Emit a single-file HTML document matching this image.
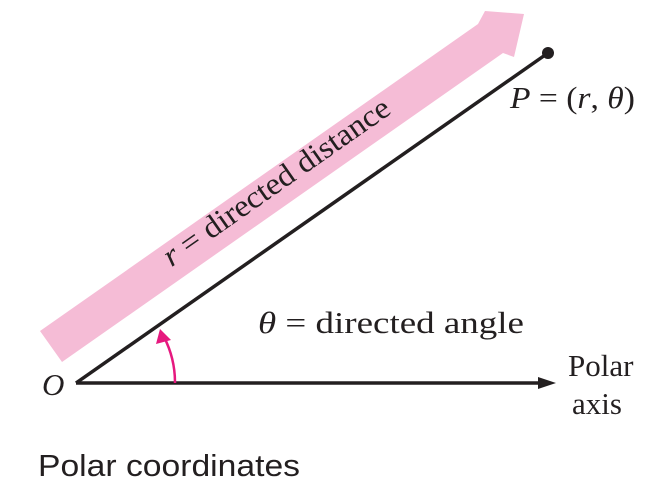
<!DOCTYPE html>
<html><head><meta charset="utf-8"><style>
html,body{margin:0;padding:0;background:#fff;}
svg{display:block;}
.s{font-family:"Liberation Serif",serif;font-size:31px;fill:#231f20;}
</style></head><body>
<svg width="660" height="490" viewBox="0 0 660 490">
<polygon fill="#f5bcd6" points="40,331 478,24 485,11 524,14 514,57 503,53 62,362"/>
<text class="s" transform="translate(282,190) rotate(-35)" text-anchor="middle" textLength="270" lengthAdjust="spacingAndGlyphs"><tspan font-style="italic">r</tspan> = directed distance</text>
<line x1="76" y1="383" x2="548" y2="53" stroke="#231f20" stroke-width="3.5"/>
<circle cx="548" cy="53" r="6" fill="#231f20"/>
<line x1="76" y1="383" x2="542" y2="383" stroke="#231f20" stroke-width="3.5"/>
<polygon fill="#231f20" points="556,383 538,377 538,389"/>
<path d="M175,383 A100,100 0 0 0 164,337" fill="none" stroke="#e6197f" stroke-width="2.5"/>
<polygon fill="#e6197f" points="160,329 156,344 171,340"/>
<text class="s" x="510" y="108" textLength="125" lengthAdjust="spacingAndGlyphs"><tspan font-style="italic">P</tspan> = (<tspan font-style="italic">r</tspan>, <tspan font-style="italic">θ</tspan>)</text>
<text class="s" x="258" y="333" textLength="266" lengthAdjust="spacingAndGlyphs"><tspan font-style="italic">θ</tspan> = directed angle</text>
<text class="s" x="42" y="395" font-style="italic">O</text>
<text class="s" x="568" y="376">Polar</text>
<text class="s" x="572" y="414">axis</text>
<text x="38" y="476" font-family="Liberation Sans, sans-serif" font-size="31" fill="#231f20" textLength="262" lengthAdjust="spacingAndGlyphs">Polar coordinates</text>
</svg>
</body></html>
